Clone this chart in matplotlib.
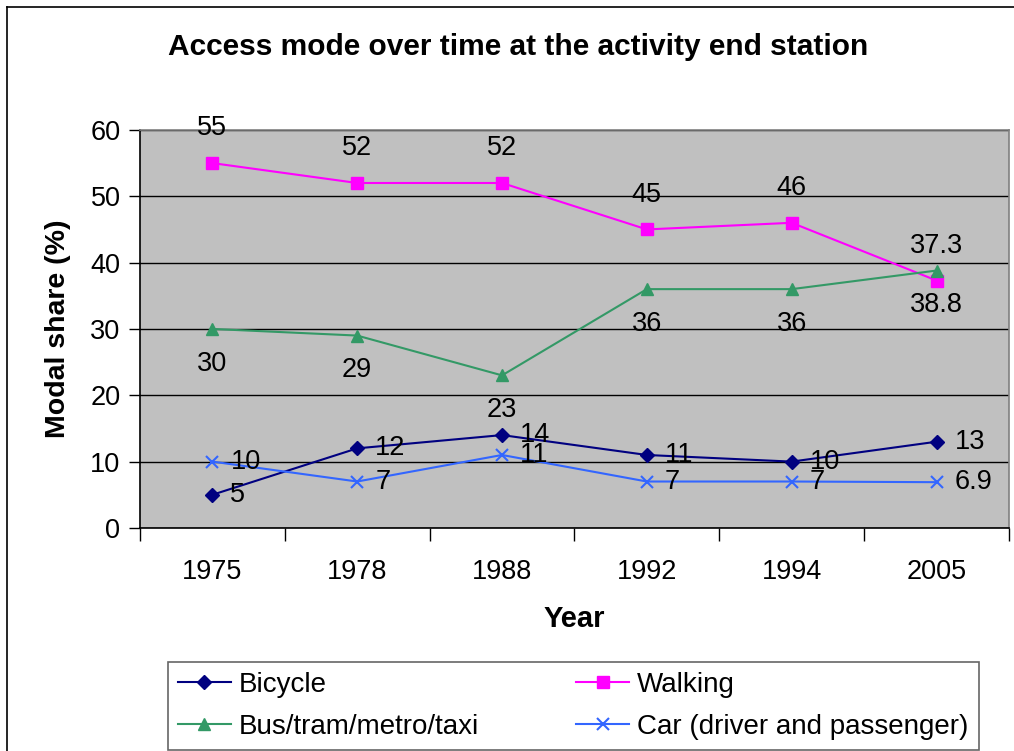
"""
    Access mode over time at the activity end station (line chart)
"""

import matplotlib
matplotlib.use("Agg")
from matplotlib import pyplot as plt
from matplotlib.lines import Line2D

plt.rcParams["font.family"] = ["Liberation Sans", "DejaVu Sans"]

# data
years = ["1975", "1978", "1988", "1992", "1994", "2005"]
bicycle = [5, 12, 14, 11, 10, 13]
walking = [55, 52, 52, 45, 46, 37.3]
bus = [30, 29, 23, 36, 36, 38.8]
car = [10, 7, 11, 7, 7, 6.9]

x = list(range(len(years)))

fig = plt.figure(figsize=(10.14, 7.51), dpi=100)
ax = fig.add_axes([0.138, 0.297, 0.857, 0.530])
ax.set_facecolor("#C0C0C0")

# series
l_bic, = ax.plot(x, bicycle, color="#000080", marker="D", ms=7, lw=1.5, label="Bicycle")
l_walk, = ax.plot(x, walking, color="#FF00FF", marker="s", ms=8, lw=1.5, label="Walking")
l_bus, = ax.plot(x, bus, color="#339966", marker="^", ms=9, lw=1.5, label="Bus/tram/metro/taxi")
l_car, = ax.plot(x, car, color="#3366FF", marker="x", ms=9, mew=1.5, lw=1.5,
                 label="Car (driver and passenger)")

# data labels
fs = 19.5
for i in x:
    ax.annotate(f"{walking[i]:g}", (i, walking[i]), xytext=(0, 25), textcoords="offset points",
                ha="center", va="center", fontsize=fs)
    ax.annotate(f"{bus[i]:g}", (i, bus[i]), xytext=(0, -25), textcoords="offset points",
                ha="center", va="center", fontsize=fs)
    ax.annotate(f"{bicycle[i]:g}", (i, bicycle[i]), xytext=(13, 0), textcoords="offset points",
                ha="left", va="center", fontsize=fs)
    ax.annotate(f"{car[i]:g}", (i, car[i]), xytext=(13, 0), textcoords="offset points",
                ha="left", va="center", fontsize=fs)

# axes
ax.set_xlim(-0.5, len(years) - 0.5)
ax.set_ylim(0, 60)
ax.set_yticks(range(0, 61, 10))
ax.yaxis.grid(True, color="black", lw=1)
ax.set_axisbelow(True)
ax.set_xticks(x)
ax.set_xticklabels(years)
ax.set_xticks([i + 0.5 for i in range(-1, len(years))], minor=True)
ax.tick_params(axis="x", which="major", length=0, pad=22, labelsize=fs)
ax.tick_params(axis="x", which="minor", length=9, width=1, direction="out")
ax.tick_params(axis="y", length=8, width=1, direction="out", labelsize=fs, pad=6)

for s in ["left", "bottom"]:
    ax.spines[s].set_color("black")
    ax.spines[s].set_linewidth(1.2)
for s in ["top", "right"]:
    ax.spines[s].set_color("#808080")
    ax.spines[s].set_linewidth(1.2)

ax.set_xlabel("Year", fontsize=21, fontweight="bold", labelpad=15)
ax.set_ylabel("Modal share (%)", fontsize=20.5, fontweight="bold", labelpad=14)
fig.text(0.511, 0.937, "Access mode over time at the activity end station",
         ha="center", va="center", fontsize=21.5, fontweight="bold")

# legend: Bicycle / Walking on first row, Bus / Car on second
leg = fig.legend([l_bic, l_bus, l_walk, l_car],
                 ["Bicycle", "Bus/tram/metro/taxi", "Walking", "Car (driver and passenger)"],
                 ncol=2, loc="upper left", bbox_to_anchor=(0.1657, 0.1185),
                 fontsize=20, frameon=True, fancybox=False, edgecolor="#404040",
                 borderpad=0.36, handlelength=1.9, handletextpad=0.29,
                 columnspacing=3.5, labelspacing=0.58, borderaxespad=0)
leg.get_frame().set_linewidth(1.2)

# outer chart border (only left and top edges fall inside the picture)
fig.add_artist(Line2D([0.0069, 0.0069], [0.0, 0.9907], transform=fig.transFigure,
                      color="black", lw=1.2))
fig.add_artist(Line2D([0.0069, 1.0], [0.9907, 0.9907], transform=fig.transFigure,
                      color="black", lw=1.2))

plt.savefig("out.png", dpi=100)
